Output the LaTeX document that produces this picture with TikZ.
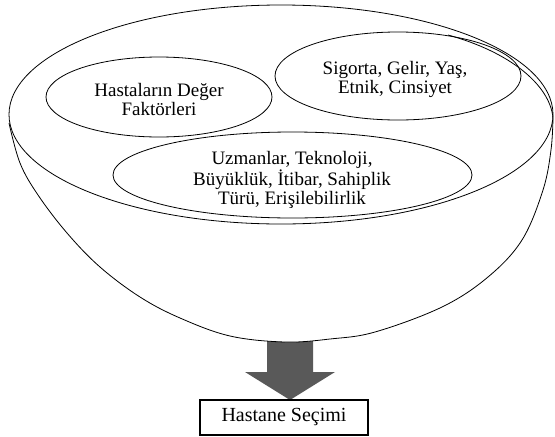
\documentclass[tikz,border=0pt]{standalone}
\usepackage{fontspec}
\setmainfont{Liberation Serif}
\definecolor{arrowgray}{HTML}{595959}
\begin{document}
\begin{tikzpicture}[x=1pt,y=-1pt,line width=0.8pt,
  txt/.style={align=center,font=\fontsize{19}{19}\selectfont,inner sep=0pt},
  selbox/.style={draw,line width=1.6pt,minimum width=168pt,minimum height=35pt,inner sep=0pt,font=\fontsize{20}{20}\selectfont}]
\useasboundingbox (0,0) rectangle (555,437);
% block arrow
\fill[arrowgray] (267,341) -- (313,341) -- (313,372) -- (335,372) -- (290,400) -- (245,372) -- (267,372) -- cycle;
% bowl
\draw[fill=white] plot[smooth,tension=0.6] coordinates {(9,123) (20,163) (38,195) (67,233) (100,267) (140,297) (180,318) (230,336) (285,342) (330,339) (375,332) (442,307) (488,277) (522,240) (543,190) (551,150) (553,118)};
\draw (281,114.5) ellipse [x radius=272pt,y radius=109.5pt];
\draw (448,35) .. controls (510,52) and (550,85) .. (553,118);
% inner ellipses
\draw (159,97) ellipse [x radius=113pt,y radius=40pt];
\draw (398,76) ellipse [x radius=123pt,y radius=44pt];
\draw (292.5,175) ellipse [x radius=179.5pt,y radius=43pt];
% texts
\node[txt] (hdf) at (159,99) {Hastaların Değer\\Faktörleri};
\node[txt] (sig) at (395,79) {Sigorta, Gelir, Yaş,\\Etnik, Cinsiyet};
\node[txt] (uzm) at (292,180) {Uzmanlar, Teknoloji,\\Büyüklük, İtibar, Sahiplik\\Türü, Erişilebilirlik};
\node[selbox] (sel) at (284,417.5) {Hastane Seçimi};
\end{tikzpicture}
\end{document}
